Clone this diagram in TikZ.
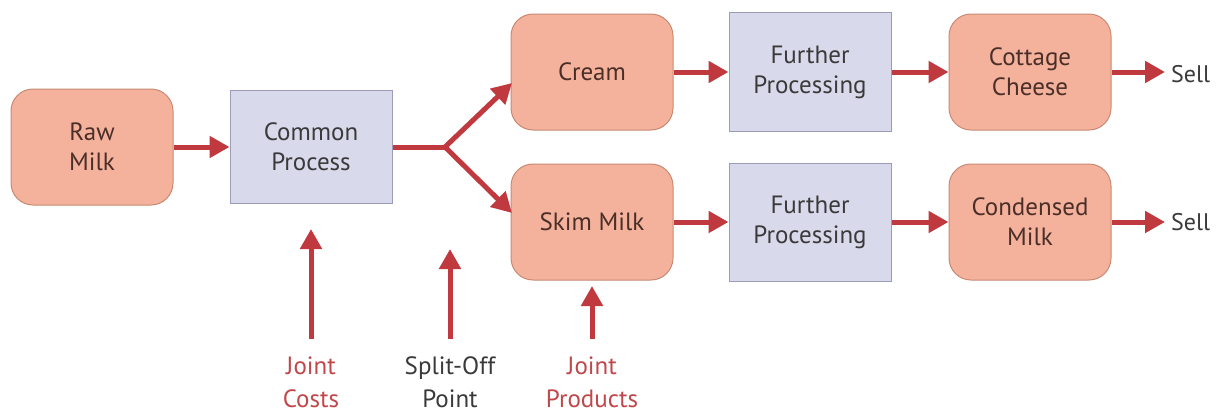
\documentclass[tikz,border=0pt]{standalone}
\usepackage{fontspec}
\setmainfont{PT Sans}
\usetikzlibrary{arrows.meta}
\definecolor{salfill}{HTML}{F4B29C}
\definecolor{saldraw}{HTML}{C98A74}
\definecolor{lavfill}{HTML}{D9D9EC}
\definecolor{lavdraw}{HTML}{9C9CBA}
\definecolor{arr}{HTML}{C0393F}
\definecolor{prodtext}{HTML}{4A2E28}
\definecolor{proctext}{HTML}{3A3A3A}
\definecolor{labred}{HTML}{C0474A}
\tikzset{
  x=1pt, y=-1pt,
  prodbox/.style={draw=saldraw, fill=salfill, line width=1pt, rounded corners=22pt,
    minimum width=162pt, minimum height=116pt, align=center, text=prodtext,
    font=\fontsize{25}{30}\selectfont},
  procbox/.style={draw=lavdraw, fill=lavfill, line width=1pt,
    minimum width=162pt, minimum height=116pt, align=center, text=proctext,
    font=\fontsize{25}{30}\selectfont},
  flow/.style={draw=arr, line width=5pt, -{Triangle[length=20pt,width=21pt]}},
  lab/.style={align=center, font=\fontsize{25}{33}\selectfont},
  selltext/.style={anchor=west, text=proctext, font=\fontsize{24}{28}\selectfont, inner sep=0pt},
}
\begin{document}
\begin{tikzpicture}
\useasboundingbox[fill=white] (0,0) rectangle (1224,415);
\node[prodbox] (raw) at (92,147) {Raw\\Milk};
\node[procbox, minimum height=113pt] (common) at (311,147) {Common\\Process};
\node[prodbox] (cream) at (592,72) {Cream};
\node[prodbox] (skim) at (592,222) {Skim Milk};
\node[procbox, minimum height=119pt] (fp1) at (810,72) {Further\\Processing};
\node[procbox, minimum height=118pt] (fp2) at (810,222) {Further\\Processing};
\node[prodbox] (cottage) at (1030,72) {Cottage\\Cheese};
\node[prodbox] (condensed) at (1030,222) {Condensed\\Milk};
\node[selltext] (sell1) at (1171,74) {Sell};
\node[selltext] (sell2) at (1171,222) {Sell};
\coordinate (split) at (445,147);
\node[lab, text=labred] (jc) at (311,382) {Joint\\Costs};
\node[lab, text=proctext] (sp) at (450,382) {Split-Off\\Point};
\node[lab, text=labred] (jp) at (592,382) {Joint\\Products};

\draw[flow] (raw.east) -- (common.west);
\draw[draw=arr, line width=5pt] (common.east) -- (split);
\draw[flow] (split) -- (512,83);
\draw[flow] (split) -- (512,213);
\draw[flow] (cream.east) -- (fp1.west |- cream.east);
\draw[flow] (fp1.east |- cream.east) -- (cottage.west);
\draw[flow] (skim.east) -- (fp2.west |- skim.east);
\draw[flow] (fp2.east |- skim.east) -- (condensed.west);
\draw[flow] (cottage.east) -- ([xshift=-6pt]sell1.west |- cottage.east);
\draw[flow] (condensed.east) -- ([xshift=-6pt]sell2.west);
\draw[flow] (311,339) -- (311,229);
\draw[flow] (450,339) -- (450,249);
\draw[flow] (592,339) -- (592,286);
\end{tikzpicture}
\end{document}
